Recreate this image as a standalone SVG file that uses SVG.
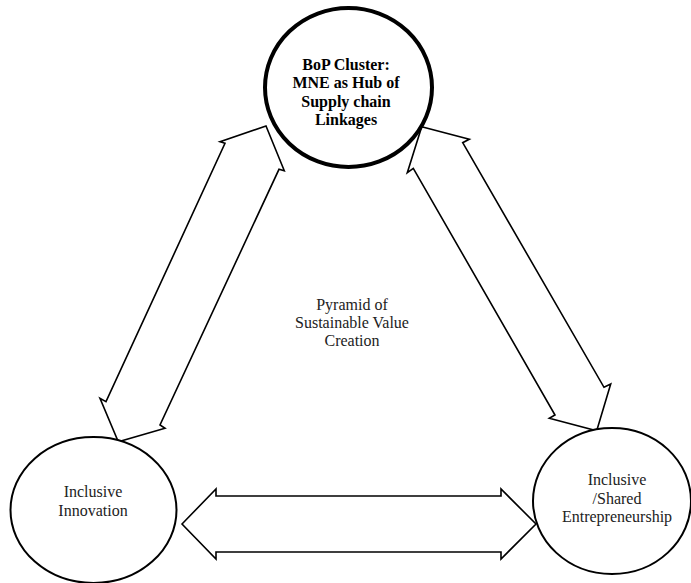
<svg xmlns="http://www.w3.org/2000/svg" width="691" height="583" viewBox="0 0 691 583">
<style>
.arrow{fill:#fff;stroke:#000;stroke-width:1.6;stroke-linejoin:miter}
.node{fill:#fff;stroke:#000;stroke-width:2}
.hub{fill:#fff;stroke:#000;stroke-width:4}
text{font-family:"Liberation Serif","Times New Roman",serif;font-size:16px;fill:#222;text-anchor:middle}
.b{font-weight:bold;fill:#000}
</style>
<rect width="691" height="583" fill="#fff"/>
<g id="connectors">
<polygon class="arrow" points="225,143.3 220,141.7 266,126 284.3,170.7 279,169.3 160,425 165,428.3 118.3,441.7 100,398.3 106,401.7"/>
<polygon class="arrow" points="421.7,126.7 469.3,139.3 462.7,142.7 604,387.3 610.7,384 596.7,430.7 549.3,418.3 555,415 413.3,168.3 407.3,172.7"/>
<polygon class="arrow" points="182,524 216,489 216,496 501,496 501,489 536,524 501,559 501,552 216,552 216,559"/>
</g>
<g id="label-center">
<text x="352" y="310">Pyramid of</text>
<text x="352" y="328">Sustainable Value</text>
<text x="352" y="346">Creation</text>
</g>
<g id="node-hub">
<ellipse class="hub" cx="348.5" cy="87.5" rx="83.5" ry="79.5"/>
<text class="b" x="346" y="70">BoP Cluster:</text>
<text class="b" x="346" y="88">MNE as Hub of</text>
<text class="b" x="346" y="106.5">Supply chain</text>
<text class="b" x="346" y="125">Linkages</text>
</g>
<g id="node-innovation">
<ellipse class="node" cx="93.5" cy="510" rx="83" ry="73"/>
<text x="93" y="497">Inclusive</text>
<text x="93" y="516">Innovation</text>
</g>
<g id="node-entrepreneurship">
<ellipse class="node" cx="612" cy="501" rx="79" ry="73"/>
<text x="617" y="485">Inclusive</text>
<text x="617" y="503.5">/Shared</text>
<text x="617" y="522">Entrepreneurship</text>
</g>
</svg>
